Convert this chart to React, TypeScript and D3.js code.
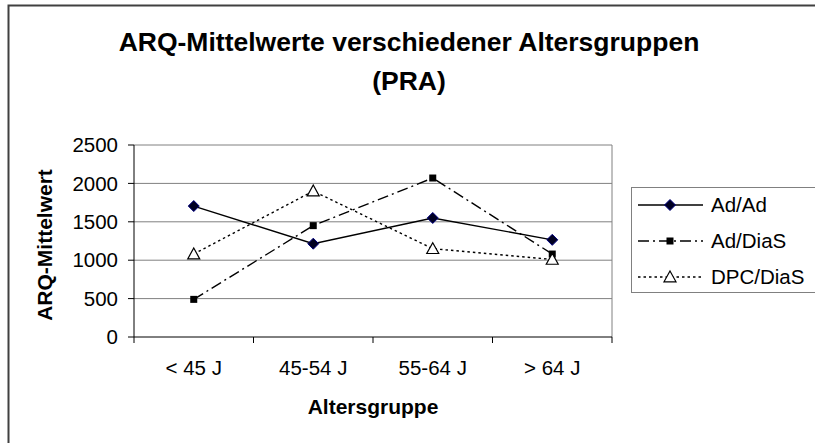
import React from "react";
import * as d3 from "d3";

const categories = ["< 45 J", "45-54 J", "55-64 J", "> 64 J"];
const seriesNames = ["Ad/Ad", "Ad/DiaS", "DPC/DiaS"];
const adAd = [1705, 1215, 1550, 1265];
const adDiaS = [490, 1450, 2070, 1080];
const dpcDiaS = [1080, 1900, 1150, 1010];
const yTicks = [0, 500, 1000, 1500, 2000, 2500];
const titleLines = ["ARQ-Mittelwerte verschiedener Altersgruppen", "(PRA)"];

const W = 815;
const H = 443;
const FONT = "'Liberation Sans', Arial, Helvetica, sans-serif";

export default function App() {
  const left = 134, right = 612, top = 145, bottom = 337;
  const x = d3.scaleBand<string>().domain(categories).range([left, right]);
  const y = d3.scaleLinear().domain([0, 2500]).range([bottom, top]);
  const cx = (c: string) => (x(c) as number) + x.bandwidth() / 2;
  const line = d3
    .line<number>()
    .x((_, i) => cx(categories[i]))
    .y((v) => y(v));

  const series = [
    { name: seriesNames[0], values: adAd, dash: "none", marker: "diamond" },
    { name: seriesNames[1], values: adDiaS, dash: "11,4,2,4", marker: "square" },
    { name: seriesNames[2], values: dpcDiaS, dash: "2.5,3", marker: "triangle" },
  ];

  const marker = (type: string, px: number, py: number, key: string) => {
    if (type === "diamond") {
      const s = 5.5;
      return (
        <path
          key={key}
          d={`M${px},${py - s}L${px + s},${py}L${px},${py + s}L${px - s},${py}Z`}
          fill="#000022"
          stroke="#000080"
          strokeWidth={1}
        />
      );
    }
    if (type === "square") {
      return <rect key={key} x={px - 3.5} y={py - 3.5} width={7} height={7} fill="#000" />;
    }
    const s = 6;
    return (
      <path
        key={key}
        d={`M${px},${py - s}L${px + s},${py + s * 0.8}L${px - s},${py + s * 0.8}Z`}
        fill="#fff"
        stroke="#000"
        strokeWidth={1.2}
      />
    );
  };

  const boundaries = categories.map((c) => x(c) as number).concat([right]);
  const legendRows = [205, 241, 277];

  return (
    <svg
      width={W}
      height={H}
      style={{ position: "fixed", left: 0, top: 0, background: "#fff" }}
      fontFamily={FONT}
    >
      <rect x={0} y={0} width={W} height={H} fill="#fff" />
      <rect x={8.5} y={5.5} width={900} height={500} fill="none" stroke="#404040" strokeWidth={2} />

      {titleLines.map((t, i) => (
        <text
          key={t}
          x={409}
          y={i === 0 ? 51 : 90}
          textAnchor="middle"
          fontSize={26.5}
          fontWeight="bold"
        >
          {t}
        </text>
      ))}

      {yTicks.slice(1).map((t) => (
        <line key={"g" + t} x1={left} x2={right} y1={y(t)} y2={y(t)} stroke="#808080" strokeWidth={1} />
      ))}
      <line x1={right} x2={right} y1={top} y2={bottom} stroke="#808080" strokeWidth={1} />

      <line x1={left} x2={left} y1={top} y2={bottom} stroke="#000" strokeWidth={1} />
      <line x1={left} x2={right} y1={bottom} y2={bottom} stroke="#000" strokeWidth={1} />
      {yTicks.map((t) => (
        <g key={"yt" + t}>
          <line x1={left - 6} x2={left} y1={y(t)} y2={y(t)} stroke="#000" />
          <text x={118} y={y(t)} dy="0.35em" textAnchor="end" fontSize={20.5}>
            {t}
          </text>
        </g>
      ))}
      {boundaries.map((b, i) => (
        <line key={"xt" + i} x1={b} x2={b} y1={bottom} y2={bottom + 6} stroke="#000" />
      ))}
      {categories.map((c) => (
        <text key={c} x={cx(c)} y={368} dy="0.35em" textAnchor="middle" fontSize={20.5}>
          {c}
        </text>
      ))}
      <text x={(left + right) / 2} y={407} dy="0.35em" textAnchor="middle" fontSize={21} fontWeight="bold">
        Altersgruppe
      </text>
      <text
        transform={`translate(45,${(top + bottom) / 2 + 4}) rotate(-90)`}
        textAnchor="middle"
        dy="0.35em"
        fontSize={21}
        fontWeight="bold"
      >
        ARQ-Mittelwert
      </text>

      {series.map((s) => (
        <g key={s.name}>
          <path
            d={line(s.values) || ""}
            fill="none"
            stroke="#000"
            strokeWidth={1.4}
            strokeDasharray={s.dash}
          />
          {s.values.map((v, i) => marker(s.marker, cx(categories[i]), y(v), s.name + i))}
        </g>
      ))}

      <rect x={631.5} y={187.5} width={300} height={105} fill="#fff" stroke="#808080" strokeWidth={1} />
      {series.map((s, i) => (
        <g key={"lg" + s.name}>
          <line
            x1={638}
            x2={703}
            y1={legendRows[i]}
            y2={legendRows[i]}
            stroke="#000"
            strokeWidth={1.4}
            strokeDasharray={s.dash}
          />
          {marker(s.marker, 670, legendRows[i], "lm" + i)}
          <text x={711} y={legendRows[i]} dy="0.35em" fontSize={20.5}>
            {s.name}
          </text>
        </g>
      ))}
    </svg>
  );
}
